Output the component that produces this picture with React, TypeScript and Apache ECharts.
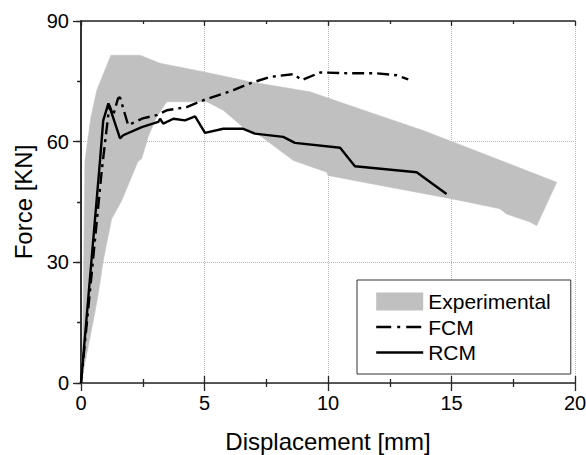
import React, { useEffect, useRef } from "react";
import * as echarts from "echarts";

// Experimental envelope (polygon vertices, upper edge then lower edge back)
const expX = [0, 0.07, 0.16, 0.27, 0.4, 0.64, 1.21, 2.39, 3.2, 4.94, 6.84, 9.27, 11.5, 13.85, 16.5, 19.26,
  18.45, 18.18, 17.23, 16.96, 15.34, 14.66, 11.43, 10.0, 9.95, 8.6, 7.25, 6.71, 5.76, 5.09, 3.47, 3.06, 2.73, 2.46, 2.3, 1.65, 1.24, 0.9, 0.7, 0.5, 0];
const expY = [0, 10.5, 55.3, 60.3, 66.1, 72.8, 81.5, 81.5, 79.5, 77.4, 74.9, 72.4, 67.7, 62.8, 56.5, 49.9,
  39.1, 40.0, 42.0, 43.3, 45.4, 46.2, 49.9, 51.6, 52.4, 55.3, 61.5, 62.8, 67.8, 69.9, 69.9, 66.1, 61.4, 55.8, 55.0, 45.4, 40.8, 30.4, 22.1, 15.5, 0];

// FCM (dash-dot)
const fcmX = [0, 0.84, 1.15, 1.3, 1.5, 1.58, 1.91, 2.5, 3.06, 3.47, 4.28, 4.95, 6.17, 6.84, 7.65, 8.6, 8.94, 9.68, 10.89, 11.97, 12.78, 13.25];
const fcmY = [0, 52.8, 69.0, 66.5, 70.8, 71.0, 64.1, 65.8, 66.6, 67.8, 68.6, 70.3, 72.8, 74.5, 76.1, 76.8, 75.3, 77.2, 77.0, 77.0, 76.5, 75.5];

// RCM (solid)
const rcmX = [0, 0.77, 0.9, 1.11, 1.58, 1.71, 2.46, 3.13, 3.2, 3.33, 3.74, 4.21, 4.62, 5.02, 5.76, 6.57, 7.04, 8.19, 8.66, 10.49, 11.09, 13.59, 14.8];
const rcmY = [0, 55.3, 65.3, 69.5, 60.8, 61.6, 63.6, 64.9, 65.7, 64.5, 65.7, 65.3, 66.3, 62.2, 63.2, 63.2, 62.0, 61.2, 59.7, 58.5, 53.9, 52.4, 47.0];

const xTicks = { min: 0, max: 20, interval: 5 };
const yTicks = { min: 0, max: 90, interval: 30 };

const FONT = "'Liberation Sans', Arial, sans-serif";
const AXIS_COLOR = "#262626";
const BAND = "#c0c0c0";

export default function App() {
  const ref = useRef<HTMLDivElement>(null);
  useEffect(() => {
    if (!ref.current) return;
    const chart = echarts.init(ref.current, undefined, { renderer: "svg" });
    const axisLine = { show: true, lineStyle: { color: AXIS_COLOR, width: 1.5 } };
    const tickStyle = { color: AXIS_COLOR, width: 1.3 };
    const expData = expX.map((x, i) => [x, expY[i]]);
    chart.setOption({
      animation: false,
      backgroundColor: "#ffffff",
      textStyle: { fontFamily: FONT },
      grid: { left: 81, top: 21, width: 494, height: 362, outerBoundsMode: "none", containLabel: false },
      legend: {
        orient: "vertical",
        left: 357,
        top: 280,
        padding: [11, 20, 11, 18],
        borderColor: "#333",
        borderWidth: 1,
        backgroundColor: "#fff",
        itemWidth: 47,
        itemHeight: 18,
        itemGap: 4.5,
        textStyle: { fontSize: 21, color: "#000", fontFamily: FONT },
        data: [
          { name: "Experimental", icon: "rect", itemStyle: { color: BAND } },
          { name: "FCM", itemStyle: { opacity: 0 }, lineStyle: { type: [15, 6, 3, 6], width: 2.4 } },
          { name: "RCM", itemStyle: { opacity: 0 }, lineStyle: { width: 2.4 } },
        ],
      },
      xAxis: [
        {
          type: "value", position: "bottom", ...xTicks,
          axisLine,
          axisTick: { show: true, inside: false, length: 8, lineStyle: tickStyle },
          minorTick: { show: true, splitNumber: 2, length: 4, lineStyle: tickStyle },
          axisLabel: { fontSize: 20, color: "#000", margin: 10, fontFamily: FONT },
          splitLine: { show: true, lineStyle: { type: "dotted", color: "#b8b8b8", width: 1 } },
          name: "Displacement [mm]", nameLocation: "middle", nameGap: 46,
          nameTextStyle: { fontSize: 24, color: "#000", fontFamily: FONT },
        },
        {
          type: "value", position: "bottom", ...xTicks,
          axisLine: { show: false },
          axisTick: { show: true, inside: true, length: 7, lineStyle: tickStyle },
          minorTick: { show: true, splitNumber: 2, length: 4, lineStyle: tickStyle },
          axisLabel: { show: false }, splitLine: { show: false },
        },
        {
          type: "value", position: "top", ...xTicks,
          axisLine,
          axisTick: { show: true, inside: true, length: 5, lineStyle: tickStyle },
          minorTick: { show: true, splitNumber: 2, length: 3, lineStyle: tickStyle },
          axisLabel: { show: false }, splitLine: { show: false },
        },
      ],
      yAxis: [
        {
          type: "value", position: "left", ...yTicks,
          axisLine,
          axisTick: { show: true, inside: false, length: 8, lineStyle: tickStyle },
          minorTick: { show: true, splitNumber: 2, length: 4, lineStyle: tickStyle },
          axisLabel: { fontSize: 20, color: "#000", margin: 12, fontFamily: FONT },
          splitLine: { show: true, lineStyle: { type: "dotted", color: "#b8b8b8", width: 1 } },
          name: "Force [KN]", nameLocation: "middle", nameGap: 45, nameRotate: 90,
          nameTextStyle: { fontSize: 24, color: "#000", fontFamily: FONT },
        },
        {
          type: "value", position: "right", ...yTicks,
          axisLine,
          axisTick: { show: true, inside: true, length: 5, lineStyle: tickStyle },
          minorTick: { show: true, splitNumber: 2, length: 3, lineStyle: tickStyle },
          axisLabel: { show: false }, splitLine: { show: false },
        },
      ],
      series: [
        {
          name: "Experimental",
          type: "custom",
          xAxisIndex: 0,
          yAxisIndex: 0,
          itemStyle: { color: BAND },
          data: expData,
          renderItem: (params: any, api: any) => {
            if (params.dataIndex !== 0) return null;
            const points = expData.map((p) => api.coord(p));
            return { type: "polygon", shape: { points }, style: { fill: BAND, stroke: BAND, lineWidth: 0.5 } };
          },
          z: 1,
        },
        {
          name: "FCM",
          type: "line",
          xAxisIndex: 0,
          yAxisIndex: 0,
          data: fcmX.map((x, i) => [x, fcmY[i]]),
          symbol: "none",
          lineStyle: { color: "#000", width: 2.4, type: [12, 5, 3, 5] },
          itemStyle: { color: "#000" },
          z: 3,
        },
        {
          name: "RCM",
          type: "line",
          xAxisIndex: 0,
          yAxisIndex: 0,
          data: rcmX.map((x, i) => [x, rcmY[i]]),
          symbol: "none",
          lineStyle: { color: "#000", width: 2.4, type: "solid" },
          itemStyle: { color: "#000" },
          z: 3,
        },
      ],
    });
    return () => chart.dispose();
  }, []);
  return <div ref={ref} style={{ width: 586, height: 455, position: "absolute", left: 0, top: 0 }} />;
}
